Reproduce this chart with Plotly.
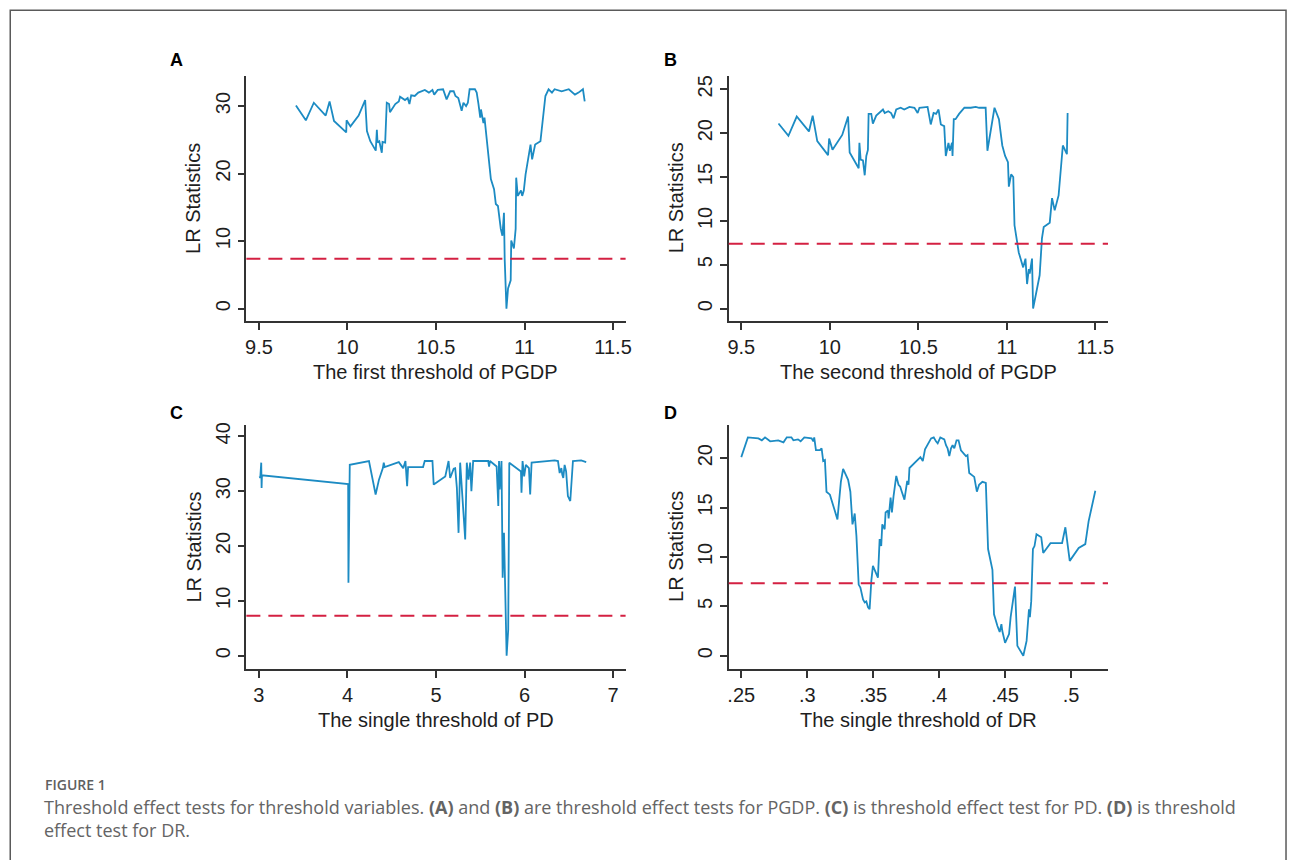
import plotly.graph_objects as go

# ---------------- data ----------------
a_x = [9.709, 9.765, 9.81, 9.877, 9.899, 9.924, 9.993, 9.995, 10.017, 10.063, 10.1, 10.11, 10.129, 10.16,
       10.166, 10.17, 10.18, 10.194, 10.198, 10.213, 10.222, 10.235, 10.24, 10.27, 10.29, 10.297, 10.325,
       10.34, 10.35, 10.36, 10.38, 10.4, 10.437, 10.46, 10.48, 10.49, 10.51, 10.54, 10.56, 10.58, 10.6,
       10.61, 10.626, 10.645, 10.655, 10.67, 10.68, 10.69, 10.72, 10.73, 10.74, 10.75, 10.754, 10.768,
       10.774, 10.78, 10.79, 10.81, 10.828, 10.838, 10.85, 10.866, 10.875, 10.884, 10.888, 10.898, 10.907,
       10.922, 10.925, 10.94, 10.95, 10.953, 10.962, 10.98, 10.987, 10.996, 11.006, 11.024, 11.034, 11.043,
       11.06, 11.09, 11.118, 11.136, 11.155, 11.17, 11.21, 11.25, 11.285, 11.305, 11.33, 11.34]
a_y = [30.1, 27.9, 30.5, 28.6, 30.7, 27.8, 26.1, 27.9, 27.0, 28.6, 30.9, 26.3, 24.8, 23.4,
       26.5, 24.6, 24.8, 23.1, 24.7, 24.6, 30.5, 30.3, 29.1, 30.3, 30.7, 31.4, 30.9,
       31.2, 30.3, 31.6, 31.5, 32.0, 32.4, 32.0, 32.4, 31.7, 32.4, 32.5, 31.0, 32.2, 32.2,
       31.5, 31.2, 29.3, 30.5, 30.0, 30.5, 32.5, 32.5, 32.0, 30.3, 28.3, 29.5, 27.5,
       28.3, 26.8, 24.1, 19.2, 17.7, 15.5, 15.2, 11.8, 10.8, 14.2, 7.4, 0.0, 3.0,
       4.2, 10.1, 8.9, 11.8, 19.4, 16.7, 17.5, 16.7, 17.5, 19.9, 22.6, 24.3, 22.1,
       24.3, 24.8, 31.5, 32.5, 32.0, 32.5, 32.2, 32.5, 31.7, 32.0, 32.5, 30.7]

b_x = [9.71, 9.766, 9.813, 9.882, 9.903, 9.929, 9.99, 9.996, 10.015, 10.07, 10.103, 10.112, 10.163,
       10.167, 10.174, 10.187, 10.197, 10.206, 10.215, 10.219, 10.234, 10.243, 10.262, 10.29, 10.3, 10.31,
       10.33, 10.346, 10.36, 10.375, 10.4, 10.42, 10.45, 10.478, 10.496, 10.506, 10.552, 10.57, 10.586,
       10.6, 10.614, 10.627, 10.646, 10.655, 10.67, 10.678, 10.69, 10.693, 10.70, 10.71, 10.73, 10.76,
       10.796, 10.824, 10.843, 10.88, 10.89, 10.93, 10.955, 10.974, 10.99, 11.006, 11.011, 11.024, 11.036,
       11.043, 11.058, 11.067, 11.092, 11.105, 11.114, 11.124, 11.129, 11.142, 11.148, 11.185, 11.198,
       11.208, 11.242, 11.255, 11.27, 11.292, 11.316, 11.339, 11.343]
b_y = [21.1, 19.7, 21.9, 20.2, 22.0, 19.1, 17.5, 19.4, 18.1, 19.8, 21.9, 17.8, 16.0,
       18.9, 17.0, 16.9, 15.2, 17.4, 18.1, 22.2, 22.2, 21.1, 22.0, 22.5, 22.7, 22.3,
       22.5, 22.3, 21.7, 22.7, 22.9, 22.7, 23.0, 22.9, 22.3, 22.9, 23.0, 21.0, 22.3,
       22.2, 22.7, 21.0, 20.8, 17.4, 18.9, 18.0, 18.9, 17.4, 21.6, 21.6, 22.2, 22.9,
       22.9, 23.0, 22.9, 22.9, 18.0, 22.9, 21.6, 18.6, 17.4, 16.7, 13.9, 15.3, 15.0,
       9.5, 7.4, 6.4, 4.7, 5.7, 2.8, 4.5, 4.0, 5.7, 0.0, 3.8, 8.0,
       9.3, 9.8, 12.6, 11.2, 12.9, 18.6, 17.6, 22.3]

c_x = [3.007, 3.015, 3.026, 3.03, 3.034, 4.008, 4.011, 4.026, 4.243, 4.318, 4.356, 4.40, 4.41, 4.42,
       4.58, 4.63, 4.655, 4.674, 4.685, 4.854, 4.873, 4.96, 4.974, 5.105, 5.142, 5.16, 5.20, 5.217,
       5.236, 5.255, 5.273, 5.31, 5.33, 5.348, 5.367, 5.386, 5.40, 5.42, 5.59, 5.60, 5.61, 5.685,
       5.697, 5.704, 5.712, 5.72, 5.74, 5.753, 5.768, 5.798, 5.816, 5.828, 5.96, 5.966, 5.978, 5.996,
       6.015, 6.05, 6.064, 6.08, 6.34, 6.378, 6.397, 6.416, 6.427, 6.438, 6.453, 6.47, 6.49, 6.517,
       6.547, 6.64, 6.697]
c_y = [32.7, 32.4, 35.2, 30.6, 32.9, 31.3, 13.3, 34.8, 35.5, 29.4, 32.1, 34.2, 35.2, 34.4,
       35.3, 34.2, 35.5, 30.9, 34.4, 34.4, 35.5, 35.5, 31.2, 32.7, 35.5, 32.4, 34.1, 34.2,
       30.6, 22.4, 35.2, 26.1, 21.2, 35.2, 32.1, 35.2, 30.0, 35.5, 35.5, 34.5, 35.5, 34.5,
       30.3, 27.3, 35.5, 30.3, 35.5, 14.2, 22.4, 0.0, 4.8, 35.2, 33.6, 29.7, 35.5, 32.7,
       34.8, 34.2, 29.4, 35.2, 35.6, 35.5, 33.3, 34.2, 33.0, 32.4, 34.8, 33.6, 29.1, 28.2,
       35.5, 35.6, 35.3]

d_x = [0.25, 0.255, 0.263, 0.2656, 0.268, 0.2719, 0.278, 0.282, 0.2845, 0.288, 0.2895, 0.293, 0.295,
       0.2978, 0.3033, 0.3046, 0.3053, 0.3066, 0.3096, 0.3109, 0.3121, 0.3134, 0.3146, 0.3172, 0.3229,
       0.3255, 0.3272, 0.331, 0.3327, 0.3343, 0.3353, 0.336, 0.3373, 0.339, 0.3403, 0.3423, 0.3436,
       0.3448, 0.3461, 0.3473, 0.3486, 0.3498, 0.3536, 0.3549, 0.3561, 0.3569, 0.3587, 0.3594, 0.3612,
       0.3617, 0.3632, 0.3642, 0.3654, 0.3675, 0.3692, 0.3705, 0.3717, 0.3737, 0.3758, 0.3768, 0.3775,
       0.3813, 0.3858, 0.3876, 0.3893, 0.3939, 0.3959, 0.3976, 0.3989, 0.4009, 0.4039, 0.4052, 0.4064,
       0.4077, 0.409, 0.4102, 0.4115, 0.4132, 0.4147, 0.4165, 0.4203, 0.4215, 0.4228, 0.4266, 0.4286,
       0.4303, 0.4328, 0.4354, 0.4371, 0.4404, 0.4416, 0.4442, 0.4459, 0.4472, 0.4479, 0.45, 0.453,
       0.4542, 0.4575, 0.4593, 0.4623, 0.4638, 0.4663, 0.4681, 0.4688, 0.4698, 0.4711, 0.4723, 0.4738,
       0.4774, 0.4789, 0.4844, 0.4932, 0.4957, 0.499, 0.5058, 0.5108, 0.5133, 0.5184]
d_y = [20.1, 22.1, 22.0, 21.8, 22.1, 21.7, 21.8, 21.6, 22.1, 22.1, 21.8, 21.9, 21.7,
       22.1, 22.0, 21.7, 22.1, 20.8, 20.8, 21.0, 19.7, 19.8, 16.6, 16.3, 13.8,
       17.6, 18.9, 17.8, 16.6, 13.3, 13.9, 14.4, 12.1, 7.2, 6.9, 5.7, 5.4,
       5.5, 4.9, 4.7, 7.6, 9.1, 7.9, 11.8, 11.1, 13.3, 12.8, 14.5, 14.7,
       13.9, 16.0, 14.5, 16.1, 18.2, 17.3, 17.1, 16.6, 15.8, 17.7, 17.3, 19.0,
       19.5, 20.1, 19.7, 20.9, 22.0, 22.1, 21.7, 21.5, 22.1, 21.9, 21.3, 21.0,
       20.2, 21.0, 21.3, 21.0, 21.8, 21.8, 20.8, 20.2, 20.3, 18.5, 18.1, 16.6,
       17.3, 17.6, 17.5, 10.8, 8.7, 4.2, 3.0, 2.4, 3.2, 2.5, 1.3, 2.2,
       3.9, 7.0, 1.0, 0.3, 0.0, 1.5, 4.7, 3.9, 5.5, 10.8, 11.1, 12.3,
       12.0, 10.4, 11.4, 11.4, 13.0, 9.6, 10.9, 11.3, 13.6, 16.7]

critical = [7.37, 7.39, 7.27, 7.33]   # critical values (dashed red lines)

panel_letters = ["A", "B", "C", "D"]
x_titles = ["The first threshold of PGDP", "The second threshold of PGDP",
            "The single threshold of PD", "The single threshold of DR"]
y_title = "LR Statistics"

x_tickvals = [[9.5, 10, 10.5, 11, 11.5], [9.5, 10, 10.5, 11, 11.5],
              [3, 4, 5, 6, 7], [0.25, 0.3, 0.35, 0.4, 0.45, 0.5]]
x_ticktext = [["9.5", "10", "10.5", "11", "11.5"], ["9.5", "10", "10.5", "11", "11.5"],
              ["3", "4", "5", "6", "7"], [".25", ".3", ".35", ".4", ".45", ".5"]]
y_tickvals = [[0, 10, 20, 30], [0, 5, 10, 15, 20, 25], [0, 10, 20, 30, 40], [0, 5, 10, 15, 20]]

caption_label = "FIGURE 1"
caption_text = ("Threshold effect tests for threshold variables. <b>(A)</b> and <b>(B)</b> are threshold "
                "effect tests for PGDP. <b>(C)</b> is threshold effect test for PD. <b>(D)</b> is threshold"
                "<br>effect test for DR.")

# ---------------- layout geometry ----------------
W, H = 1295, 860
def px(x): return x / W
def py(y): return 1 - y / H

x_ranges = [[9.429, 11.571], [9.429, 11.571], [2.858, 7.142], [0.2405, 0.528]]
y_ranges = [[-1.82, 34.5], [-1.4, 26.55], [-2.42, 42.1], [-1.34, 23.37]]

left_cols = [(246.7, 628.0), (731.7, 1113.0)]
rows = [(73.0, 319.0), (423.3, 668.3)]

FONT = "Liberation Sans, Arial, sans-serif"
CAPFONT = "Open Sans, Lato, sans-serif"
LINE_BLUE = "#1c8bc3"
RED = "#d42042"
AXC = "#333333"

datasets = [(a_x, a_y), (b_x, b_y), (c_x, c_y), (d_x, d_y)]

fig = go.Figure()
annotations = []
shapes = []

for i, (xs, ys) in enumerate(datasets):
    r, c = divmod(i, 2)
    xl, xr = left_cols[c]
    yt, yb = rows[r]
    n = "" if i == 0 else str(i + 1)
    xa, ya = "x" + n, "y" + n
    fig.add_trace(go.Scatter(x=xs, y=ys, mode="lines", xaxis=xa, yaxis=ya,
                             line=dict(color=LINE_BLUE, width=1.8), showlegend=False,
                             hoverinfo="x+y"))
    common = dict(showline=True, linecolor=AXC, linewidth=1.5, ticks="outside",
                  tickcolor=AXC, tickwidth=1.5, showgrid=False, zeroline=False,
                  tickfont=dict(family=FONT, size=20, color="#1e1e1e"))
    fig.layout["xaxis" + n] = dict(domain=[px(xl), px(xr)], range=x_ranges[i], anchor=ya,
                                   tickmode="array", tickvals=x_tickvals[i], ticktext=x_ticktext[i],
                                   ticklen=7, **common)
    fig.layout["yaxis" + n] = dict(domain=[py(yb), py(yt)], range=y_ranges[i], anchor=xa,
                                   tickmode="array", tickvals=y_tickvals[i], tickangle=-90,
                                   ticklen=7, **common)
    # critical value line
    shapes.append(dict(type="line", xref=xa + " domain", yref=ya, x0=0, x1=1,
                       y0=critical[i], y1=critical[i],
                       line=dict(color=RED, width=2, dash="14px,8px")))
    # panel letter
    annotations.append(dict(text="<b>" + panel_letters[i] + "</b>", xref="paper", yref="paper",
                            x=px(176.5 + c * 496.5), y=py(57.5 + r * 353.5), showarrow=False,
                            xanchor="center", yanchor="middle",
                            font=dict(family=FONT, size=18, color="#000")))
    # axis titles
    annotations.append(dict(text=x_titles[i], xref="paper", yref="paper",
                            x=px((xl + xr) / 2), y=py(yb + 51), showarrow=False,
                            xanchor="center", yanchor="middle",
                            font=dict(family=FONT, size=20, color="#1e1e1e")))
    annotations.append(dict(text=y_title, xref="paper", yref="paper",
                            x=px(xl - 53), y=py((yt + yb) / 2), showarrow=False, textangle=-90,
                            xanchor="center", yanchor="middle",
                            font=dict(family=FONT, size=20, color="#1e1e1e")))

# caption
annotations.append(dict(text=caption_label, xref="paper", yref="paper", x=px(42), y=py(784),
                        showarrow=False, xanchor="left", yanchor="middle",
                        font=dict(family=CAPFONT, size=14, color="#606060", weight=600)))
annotations.append(dict(text=caption_text, xref="paper", yref="paper", x=px(41), y=py(818),
                        showarrow=False, xanchor="left", yanchor="middle", align="left",
                        font=dict(family=CAPFONT, size=18, color="#646464")))

# outer frame
shapes.append(dict(type="rect", xref="paper", yref="paper", x0=px(9.3), x1=px(1292), y0=py(875), y1=py(7.3),
                   line=dict(color="#5a5a5a", width=1.5), fillcolor="rgba(0,0,0,0)", layer="above"))

fig.update_layout(width=W, height=H, margin=dict(l=0, r=0, t=0, b=0),
                  paper_bgcolor="white", plot_bgcolor="white",
                  annotations=annotations, shapes=shapes, showlegend=False)

fig.write_html("out.html", config={"displayModeBar": False},
               post_script="document.body.style.margin='0px';document.body.style.overflow='hidden';")
